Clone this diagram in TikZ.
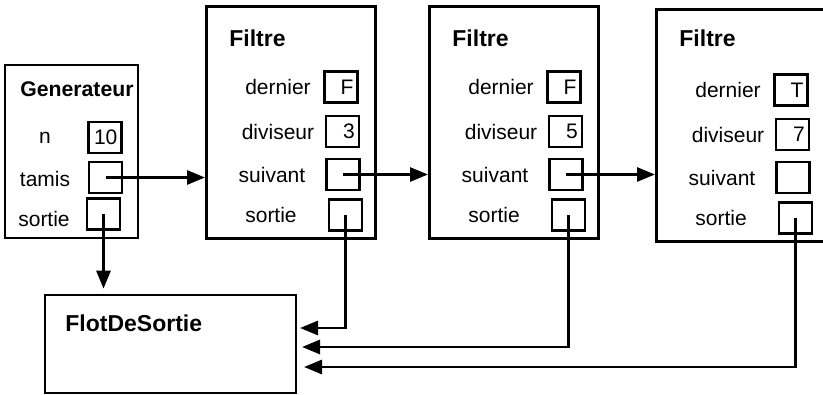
\documentclass[tikz,border=0pt]{standalone}
\usepackage{fontspec}
\setmainfont{Liberation Sans}
\usetikzlibrary{arrows.meta}

\tikzset{
  objet/.style={draw, line width=1.3pt, inner sep=0pt},
  champ/.style={draw, line width=1.3pt, minimum width=16.5pt, minimum height=15.5pt, inner sep=0pt},
  titre/.style={anchor=west, inner sep=0pt, font=\bfseries\fontsize{11.5}{13}\selectfont},
  etiq/.style={inner sep=0pt, font=\fontsize{10.5}{12}\selectfont},
  valeur/.style={etiq, anchor=east, xshift=-2.5pt},
  fleche/.style={line width=1.4pt, -{Triangle[length=9pt,width=7pt]}},
}

\begin{document}
\begin{tikzpicture}[x=0.5pt, y=-0.5pt]
    \useasboundingbox (0,0) rectangle (823,395);
    % le generateur
    \node[objet, minimum width=66.5pt, minimum height=86.5pt] (gen) at (71.5,151.5) {};
    \node[titre, font=\bfseries\fontsize{10.6}{12}\selectfont] (gen-t) at (20,89) {Generateur};
    \node[etiq] (gen-ln) at (45,138) {n};
    \node[etiq] (gen-lt) at (45,179) {tamis};
    \node[etiq] (gen-ls) at (44,219) {sortie};
    \node[champ] (gen-n) at (105,137.5) {};
    \node[champ] (gen-m) at (105.5,177.5) {};
    \node[champ] (gen-s) at (103.5,214) {};
    \node[valeur] (gen-nv) at (gen-n.east) {10};
    % les filtres
    \foreach \f/\x/\s/\w/\d/\v in {fa/205/0/84.5/F/3, fb/428/0/84.5/F/5, fc/655/3/90/T/7} {
        \node[objet, anchor=north west, minimum width=\w pt, minimum height=116pt] (\f) at (\x,5+\s) {};
        \node[titre] (\f-t) at (\x+24,38) {Filtre};
        \node[etiq] (\f-ld) at (\x+73,87+\s) {dernier};
        \node[etiq] (\f-lv) at (\x+73,131.5+\s) {diviseur};
        \node[etiq] (\f-lm) at (\x+67,174.5+\s) {suivant};
        \node[etiq] (\f-ls) at (\x+66,215+\s) {sortie};
        \node[champ] (\f-d) at (\x+136,87+\s) {};
        \node[champ] (\f-v) at (\x+137.5,131.5+\s) {};
        \node[champ] (\f-m) at (\x+138,174.5+\s) {};
        \node[champ] (\f-s) at (\x+140.5,215+\s) {};
        \node[valeur] (\f-dv) at (\f-d.east) {\d};
        \node[valeur] (\f-vv) at (\f-v.east) {\v};
    }
    % le flot de sortie
    \node[objet, minimum width=125.5pt, minimum height=49pt] (flot) at (170.5,344) {};
    \node[titre] (flot-t) at (65,323) {FlotDeSortie};
    \coordinate (ea) at (300,328);
    \coordinate (eb) at (302,347);
    \coordinate (ec) at (304,367);
    % les liens
    \draw[fleche] (gen-m.center) -- (gen-m.center -| fa.west);
    \draw[fleche] (fa-m.center) -- (fa-m.center -| fb.west);
    \draw[fleche] (fb-m.center) -- (fb-m.center -| fc.west);
    \draw[fleche, shorten >=2.5pt] (gen-s.center) -- (gen-s.center |- flot.north);
    \draw[fleche] (fa-s.center) |- (ea);
    \draw[fleche] (fb-s.center) |- (eb);
    \draw[fleche] (fc-s.center) |- (ec);
\end{tikzpicture}
\end{document}
